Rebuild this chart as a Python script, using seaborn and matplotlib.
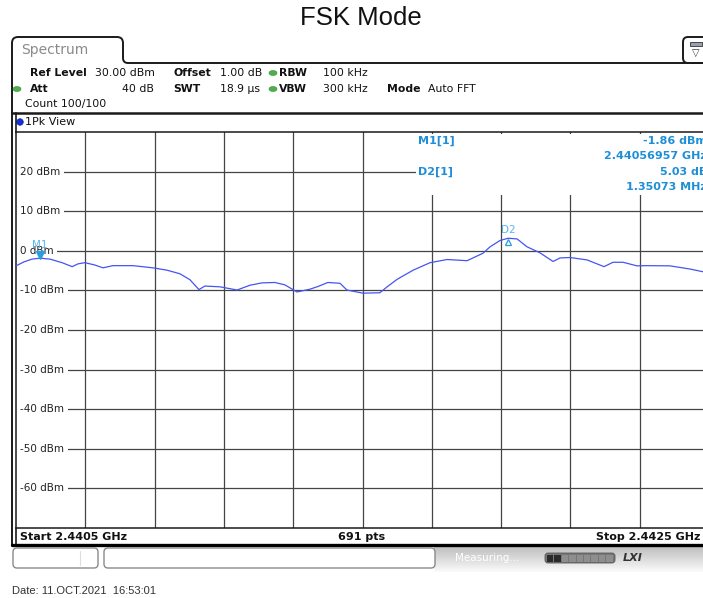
import numpy as np
import matplotlib
matplotlib.use("Agg")
import matplotlib.pyplot as plt
import seaborn as sns
from matplotlib.patches import FancyBboxPatch, Rectangle, Ellipse, Circle, PathPatch
from matplotlib.path import Path
from matplotlib.transforms import offset_copy

# sweep settings
start_ghz = 2.4405
stop_ghz = 2.4425
ref_level = 30.0
bottom_level = -70.0
n_points = 691

# trace (offset from start in MHz, level in dBm)
freq_offset_mhz = [0.000, 0.023, 0.046, 0.0696, 0.098, 0.133, 0.162, 0.179, 0.199, 0.228,
                   0.251, 0.280, 0.338, 0.395, 0.436, 0.473, 0.502, 0.528, 0.545, 0.589,
                   0.638, 0.675, 0.710, 0.747, 0.776, 0.811, 0.848, 0.872, 0.900, 0.935,
                   0.955, 1.001, 1.050, 1.071, 1.100, 1.146, 1.195, 1.244, 1.302, 1.348,
                   1.368, 1.397, 1.4203, 1.446, 1.475, 1.512, 1.550, 1.570, 1.599, 1.648,
                   1.697, 1.723, 1.752, 1.792, 1.821, 1.887, 1.945, 1.983, 2.000]
level_dbm = [-3.8, -2.8, -2.1, -1.86, -2.1, -3.0, -4.0, -3.3, -3.0, -3.6,
             -4.3, -3.75, -3.75, -4.3, -4.9, -5.8, -7.3, -9.8, -8.9, -9.1,
             -9.9, -8.7, -8.1, -8.0, -8.6, -10.4, -9.7, -9.0, -8.0, -8.2,
             -9.9, -10.7, -10.6, -9.1, -7.2, -4.9, -3.0, -2.2, -2.5, -0.6,
             1.0, 2.6, 3.17, 3.0, 1.0, -0.5, -2.7, -1.8, -1.7, -2.3,
             -4.0, -2.9, -2.9, -3.8, -3.75, -3.8, -4.6, -5.3, -5.5]
assert len(freq_offset_mhz) == len(level_dbm)

# markers
m1_freq_ghz = 2.44056957
m1_level = -1.86
d2_delta_mhz = 1.35073
d2_delta_db = 5.03

level_ticks = [20, 10, 0, -10, -20, -30, -40, -50, -60]

freq_ghz = [start_ghz + f / 1000 for f in freq_offset_mhz]
d2_freq_ghz = m1_freq_ghz + d2_delta_mhz / 1000
d2_level = m1_level + d2_delta_db

sns.set_style("white")
plt.rcParams["font.family"] = ["DejaVu Sans"]

W, H = 703, 598
fig = plt.figure(figsize=(W / 100, H / 100), dpi=100)

# pixel-space layer for the instrument frame
bg = fig.add_axes([0, 0, 1, 1], zorder=0)
bg.set_xlim(0, W)
bg.set_ylim(H, 0)
bg.axis("off")

line_c = "#1a1a1a"
grid_c = "#444444"
mk_c = "#2a9de0"
trace_c = "#4455f2"

fig.text(0.514, 1 - 18 / H, "FSK Mode", ha="center", va="center",
         fontsize=18.5, family=["Liberation Sans", "DejaVu Sans"], color="#111111")

# tab outline + outer frame
verts = [(12, 545), (12, 43), (12, 37), (18, 37), (117, 37), (123, 37), (123, 43),
         (123, 58), (123, 63), (128, 63), (683, 63)]
codes = [Path.MOVETO, Path.LINETO, Path.CURVE3, Path.CURVE3, Path.LINETO, Path.CURVE3,
         Path.CURVE3, Path.LINETO, Path.CURVE3, Path.CURVE3, Path.LINETO]
bg.add_patch(PathPatch(Path(verts, codes), fc="none", ec=line_c, lw=1.4))
bg.plot([683, 705], [63, 63], color=line_c, lw=1.4)
bg.add_patch(FancyBboxPatch((683, 37), 30, 26, boxstyle="round,pad=0,rounding_size=5",
                            fc="white", ec=line_c, lw=1.4))
bg.add_patch(Rectangle((690, 42), 12, 4, fc="#9aa0b0", ec="#333333", lw=0.6))
bg.text(696, 53, "▽", ha="center", va="center", fontsize=7, color="#333333")
bg.text(21, 50, "Spectrum", ha="left", va="center", fontsize=10, color="#8a8a8a")

# header info
hdr = dict(va="center", fontsize=7.8, color="#111111")
bg.text(30, 73, "Ref Level", weight="bold", **hdr)
bg.text(95, 73, "30.00 dBm", **hdr)
bg.text(173, 73, "Offset", weight="bold", **hdr)
bg.text(220, 73, "1.00 dB", **hdr)
bg.text(279, 73, "RBW", weight="bold", **hdr)
bg.text(323, 73, "100 kHz", **hdr)
bg.text(30, 89, "Att", weight="bold", **hdr)
bg.text(154, 89, "40 dB", ha="right", **hdr)
bg.text(173, 89, "SWT", weight="bold", **hdr)
bg.text(220, 89, "18.9 µs", **hdr)
bg.text(279, 89, "VBW", weight="bold", **hdr)
bg.text(323, 89, "300 kHz", **hdr)
bg.text(387, 89, "Mode", weight="bold", **hdr)
bg.text(428, 89, "Auto FFT", **hdr)
bg.text(25, 104, "Count 100/100", **hdr)
for cx, cy in [(273, 73), (273, 89), (17, 89)]:
    bg.add_patch(Ellipse((cx, cy), 8, 5, fc="#4cb04c", ec="#3a8a3a", lw=0.4))

bg.plot([12, 705], [113, 113], color=line_c, lw=1.8)
bg.plot([15.5, 15.5], [113, 132], color=line_c, lw=1.2)
bg.add_patch(Circle((20, 122), 3.3, fc="#1030e0", ec="#0a1a80", lw=0.4))
bg.text(25, 122, "1Pk View", va="center", fontsize=8, color="#111111")

# bottom bar
bg.plot([15.5, 15.5], [528, 544], color=line_c, lw=1.2)
bg.text(20, 536.5, f"Start {start_ghz:.4f} GHz", va="center", fontsize=8, weight="bold", color="#111111")
bg.text(362, 536.5, f"{n_points} pts", ha="center", va="center", fontsize=8, weight="bold", color="#111111")
bg.text(700, 536.5, f"Stop {stop_ghz:.4f} GHz", ha="right", va="center", fontsize=8, weight="bold", color="#111111")
bg.plot([12, 705], [544.5, 544.5], color="#000000", lw=2.4)

# status strip
grad = np.linspace(0.74, 0.98, 30).reshape(-1, 1)
bg.imshow(grad, extent=[434, 703, 572, 546], cmap="gray", vmin=0, vmax=1, aspect="auto", zorder=0)
bg.add_patch(FancyBboxPatch((13, 548), 85, 20, boxstyle="round,pad=0,rounding_size=4",
                            fc="white", ec="#8a8a8a", lw=1.0, zorder=2))
bg.plot([80, 80], [551, 565], color="#dddddd", lw=0.8, zorder=3)
bg.add_patch(FancyBboxPatch((104, 548), 331, 20, boxstyle="round,pad=0,rounding_size=4",
                            fc="white", ec="#8a8a8a", lw=1.0, zorder=2))
bg.text(455, 558, "Measuring...", va="center", fontsize=7.5, color="white", zorder=3)
bg.add_patch(FancyBboxPatch((545, 553), 70, 10, boxstyle="round,pad=0,rounding_size=3",
                            fc="#777777", ec="#555555", lw=0.6, zorder=3))
for i in range(9):
    seg_c = "#2a2a2a" if i < 2 else "#8e8e8e"
    bg.add_patch(Rectangle((547 + i * 7.4, 554.5), 6.4, 7, fc=seg_c, ec="none", zorder=4))
bg.text(623, 558, "LXI", va="center", fontsize=8, weight="bold", style="italic",
        color="#333333", zorder=3)

bg.text(12, 591, "Date: 11.OCT.2021  16:53:01", va="center", fontsize=8,
        family=["Liberation Sans", "DejaVu Sans"], color="#333333")

# spectrum plot
ax = fig.add_axes([16 / W, 1 - 528 / H, 693 / W, 396 / H], zorder=1)
ax.set_facecolor("white")
ax.set_xlim(start_ghz, stop_ghz)
ax.set_ylim(bottom_level, ref_level)
ax.set_xticks([])
ax.set_yticks([])
for side in ["left", "top", "bottom"]:
    ax.spines[side].set_color(line_c)
    ax.spines[side].set_linewidth(1.1)
ax.spines["right"].set_visible(False)

span = stop_ghz - start_ghz
for k in range(1, 10):
    ax.axvline(start_ghz + k * span / 10, color=grid_c, lw=0.9, zorder=1)
for v in level_ticks:
    ax.axhline(v, color=grid_c, lw=0.9, zorder=1)
    ax.text(4 / 693, v, f"{v} dBm", transform=ax.get_yaxis_transform(), ha="left",
            va="center", fontsize=7.5, color="#222222", zorder=2,
            bbox=dict(fc="white", ec="none", pad=2.8))

sns.lineplot(x=freq_ghz, y=level_dbm, ax=ax, color=trace_c, lw=0.9, zorder=3)

ax.plot([m1_freq_ghz], [m1_level], marker="v", ms=5.5, color=mk_c, ls="none", zorder=4,
        transform=offset_copy(ax.transData, fig=fig, x=0, y=3, units="dots"))
ax.annotate("M1", (m1_freq_ghz, m1_level), xytext=(0, 13), textcoords="offset pixels",
            ha="center", va="center", fontsize=7.5, color="#55b5ee", zorder=4)
ax.plot([d2_freq_ghz], [d2_level], marker="^", ms=5, mfc="none", mec=mk_c, mew=0.9,
        ls="none", zorder=4,
        transform=offset_copy(ax.transData, fig=fig, x=0, y=-3.5, units="dots"))
ax.annotate("D2", (d2_freq_ghz, d2_level), xytext=(0, 8), textcoords="offset pixels",
            ha="center", va="center", fontsize=7.5, color="#55b5ee", zorder=4)

# marker table
fg = fig.add_axes([0, 0, 1, 1], zorder=2)
fg.set_xlim(0, W)
fg.set_ylim(H, 0)
fg.axis("off")
fg.add_patch(Rectangle((416, 133.5), 300, 61, fc="white", ec="none"))
tab = dict(va="center", fontsize=8, weight="bold", color="#1e8fd6")
fg.text(418, 141, "M1[1]", **tab)
fg.text(707, 141, f"{m1_level:.2f} dBm", ha="right", **tab)
fg.text(707, 156, f"{m1_freq_ghz:.8f} GHz", ha="right", **tab)
fg.text(418, 172, "D2[1]", **tab)
fg.text(707, 172, f"{d2_delta_db:.2f} dB", ha="right", **tab)
fg.text(707, 187, f"{d2_delta_mhz:.5f} MHz", ha="right", **tab)

fig.savefig("out.png", dpi=100)
